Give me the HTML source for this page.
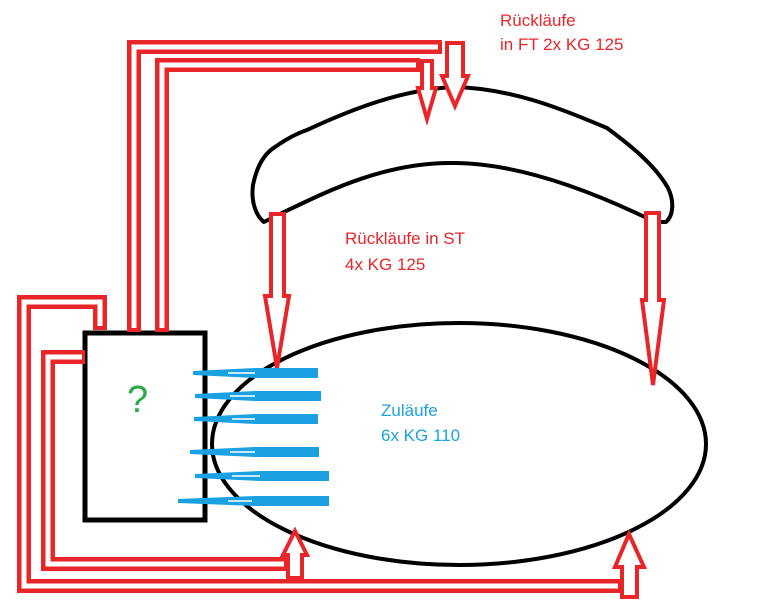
<!DOCTYPE html>
<html><head><meta charset="utf-8"><style>
html,body{margin:0;padding:0;background:#fff;}
svg{display:block;}
text{font-family:"Liberation Sans",sans-serif;}
</style></head><body>
<svg width="768" height="614" viewBox="0 0 768 614" xmlns="http://www.w3.org/2000/svg">
<rect width="768" height="614" fill="#fff"/>
<ellipse cx="459" cy="444" rx="247" ry="121" fill="none" stroke="#000" stroke-width="4"/>
<path d="M264,222 C255,215 251,200 253,185 C256,170 262,155 275,147 C285,140 295,134 307,130 C350,110 400,90 453,87 C510,88 560,108 607,128 C630,145 655,165 668,188 C674,200 674,215 666,222 L655,222 C600,195 520,162 450,163 C380,163 320,195 280,214 L264,222 Z" fill="none" stroke="#000" stroke-width="4" stroke-linejoin="round"/>
<rect x="85" y="333" width="120" height="187" fill="#fff" stroke="#000" stroke-width="5"/>
<text x="127" y="412" font-size="38" fill="#2aa84a">?</text>
<g fill="none" stroke-linejoin="miter">
<g stroke="#e8262a" stroke-width="14">
<polyline points="134,332 134,47 442,47"/>
<polyline points="162,332 162,65 420,65"/>
<polyline points="100,330 100,302 24,302 24,586 622,586"/>
<polyline points="85,357 48,357 48,564 288,564"/>
</g>
<g stroke="#fff" stroke-width="5">
<polyline points="134,328 134,47 438,47"/>
<polyline points="162,328 162,65 416,65"/>
<polyline points="100,326 100,302 24,302 24,586 618,586"/>
<polyline points="82,357 48,357 48,564 284,564"/>
</g>
<g stroke="#e8262a" stroke-width="4" fill="#fff">
<path d="M447,43 L463,43 L463,76 L468,76 L455,106 L442,76 L447,76 Z"/>
<path d="M422,61 L432,61 L432,88 L436,88 L427,119 L418,88 L422,88 Z"/>
<path d="M271,214 L284,214 L284,296 L289,296 L277,368 L265,296 L271,296 Z"/>
<path d="M646,213 L659,213 L659,300 L664,300 L653,385 L642,300 L646,300 Z"/>
<path d="M622,597 L637,597 L637,567 L644,567 L629,534 L615,567 L622,567 Z"/>
<path d="M288,578 L302,578 L302,555 L307,555 L295,531 L283,555 L288,555 Z"/>
</g>
</g>
<g fill="#1ba1e2">
<path d="M193,371 L255,368 L318,368 L318,378 L255,378 L193,375 Z"/>
<path d="M195,394 L255,391 L321,391 L321,401 L255,401 L195,398 Z"/>
<path d="M194,417 L255,414 L318,414 L318,424 L255,424 L194,421 Z"/>
<path d="M190,450 L255,447 L319,447 L319,457 L255,457 L190,454 Z"/>
<path d="M195,474 L260,471 L329,471 L329,481 L260,481 L195,478 Z"/>
<path d="M178,499 L255,496 L329,496 L329,506 L255,506 L178,503 Z"/>
</g>
<g stroke="#fff" stroke-width="1.5">
<line x1="228" y1="373" x2="255" y2="373"/>
<line x1="230" y1="396" x2="255" y2="396"/>
<line x1="232" y1="419" x2="255" y2="419"/>
<line x1="230" y1="452" x2="255" y2="452"/>
<line x1="232" y1="476" x2="260" y2="476"/>
<line x1="228" y1="501" x2="252" y2="501"/>
</g>
<g font-size="17" fill="#e8262a">
<text x="500" y="26">Rückläufe</text>
<text x="500" y="50">in FT 2x KG 125</text>
<text x="345" y="244">Rückläufe in ST</text>
<text x="345" y="270">4x KG 125</text>
</g>
<g font-size="17" fill="#1ba1e2">
<text x="381" y="416">Zuläufe</text>
<text x="381" y="441">6x KG 110</text>
</g>
</svg>
</body></html>
